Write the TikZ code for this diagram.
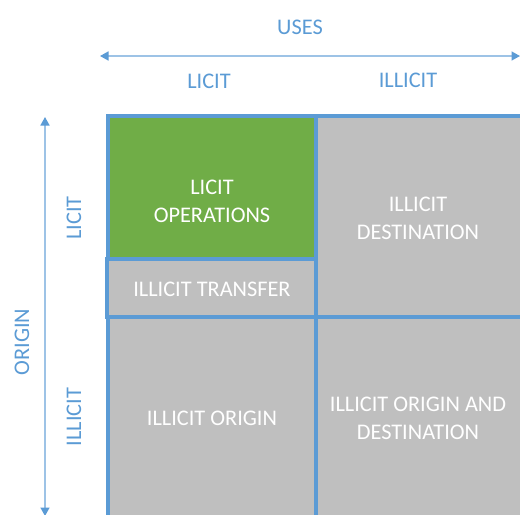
\documentclass[tikz,border=0pt]{standalone}
\usepackage{fontspec}
\setmainfont{Carlito}
\usetikzlibrary{arrows.meta}
\definecolor{frameblue}{HTML}{5B9BD5}
\definecolor{arrowblue}{HTML}{9DC3E6}
\definecolor{cellgreen}{HTML}{70AD47}
\definecolor{cellgray}{HTML}{BFBFBF}
\begin{document}
\begin{tikzpicture}[x=0.2mm,y=-0.2mm,
		axislabel/.style={text=frameblue,font=\fontsize{12.7pt}{15.9pt}\selectfont},
		celltext/.style={text=white,align=center,font=\fontsize{12.7pt}{15.9pt}\selectfont},
		cell/.style={draw=frameblue,line width=0.8mm},
		axis/.style={draw=arrowblue,line width=0.3mm,{Triangle[length=1.7mm,width=1.8mm,color=frameblue]}-{Triangle[length=1.7mm,width=1.8mm,color=frameblue]}}]
		\clip (0,0) rectangle (520,514);
		\fill[white] (0,0) rectangle (520,514);
		
		\coordinate (usesL) at (100,56);
		\coordinate (usesR) at (520,56);
		\coordinate (originT) at (45,117);
		\coordinate (originB) at (45,516);
		\draw[axis] (usesL) -- (usesR);
		\draw[axis] (originT) -- (originB);
		
		\node[axislabel] (uses) at (300,27) {USES};
		\node[axislabel] (usesLicit) at (209,81) {LICIT};
		\node[axislabel] (usesIllicit) at (408,80) {ILLICIT};
		\node[axislabel,rotate=90] (origin) at (22,342) {ORIGIN};
		\node[axislabel,rotate=90] (originLicit) at (74,218) {LICIT};
		\node[axislabel,rotate=90] (originIllicit) at (74,417) {ILLICIT};
		
		\draw[cell,fill=cellgray] (316,116) rectangle (540,317);
		\draw[cell,fill=cellgray] (108,317) rectangle (316,540);
		\draw[cell,fill=cellgray] (316,317) rectangle (540,540);
		\draw[cell,fill=cellgray] (107,259) rectangle (316,317);
		\draw[cell,fill=cellgreen] (108,116) rectangle (316,259);
		
		\node[celltext] (licitOps) at (212,201) {LICIT\\OPERATIONS};
		\node[celltext] (illicitTransfer) at (212,289) {ILLICIT TRANSFER};
		\node[celltext] (illicitDest) at (418,218) {ILLICIT\\DESTINATION};
		\node[celltext] (illicitOrigin) at (212,418) {ILLICIT ORIGIN};
		\node[celltext] (illicitBoth) at (418,418) {ILLICIT ORIGIN AND\\DESTINATION};
	\end{tikzpicture}
\end{document}
